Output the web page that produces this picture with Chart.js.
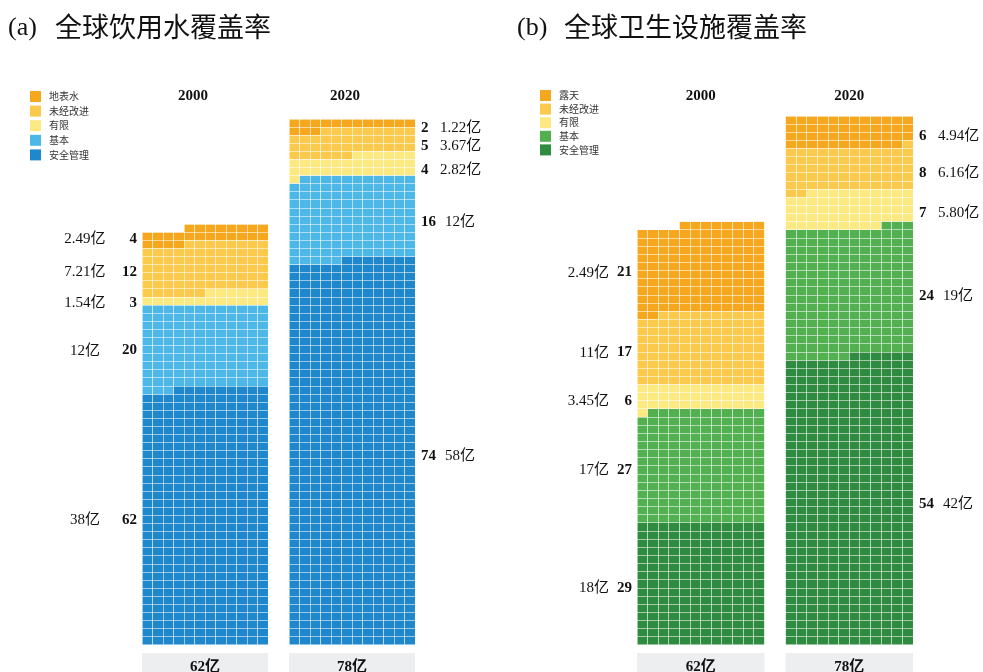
<!DOCTYPE html>
<html>
<head>
<meta charset="utf-8">
<script src="https://cdn.jsdelivr.net/npm/chart.js@4.4.1/dist/chart.umd.min.js"></script>
<style>
  html, body { margin: 0; padding: 0; background: #fff; }
  #wrap { position: relative; width: 983px; height: 672px; overflow: hidden; }
  .panel { position: absolute; top: 0; height: 672px; }
  #pa { left: 0; width: 491px; }
  #pb { left: 491px; width: 492px; }
</style>
</head>
<body>
<div id="wrap">
  <div class="panel" id="pa"><canvas id="ca" width="491" height="672"></canvas></div>
  <div class="panel" id="pb"><canvas id="cb" width="492" height="672"></canvas></div>
</div>
<script>
// ---- data ----------------------------------------------------------------
const years = ['2000', '2020'];
const totalPop = [62, 78];                 // 亿人
const totalLabels = ['62亿', '78亿'];

// service levels, listed top to bottom
const waterLevels = ['地表水', '未经改进', '有限', '基本', '安全管理'];
const waterShare2000 = [4, 12, 3, 20, 62];          // %
const waterShare2020 = [2, 5, 4, 16, 74];
const waterPop2000 = ['2.49亿', '7.21亿', '1.54亿', '12亿', '38亿'];
const waterPop2020 = ['1.22亿', '3.67亿', '2.82亿', '12亿', '58亿'];
const waterColors = ['#F5A81E', '#FBC94B', '#FDE982', '#4DB7E8', '#1F88CC'];

const sanLevels = ['露天', '未经改进', '有限', '基本', '安全管理'];
const sanShare2000 = [21, 17, 6, 27, 29];
const sanShare2020 = [6, 8, 7, 24, 54];
const sanPop2000 = ['2.49亿', '11亿', '3.45亿', '17亿', '18亿'];
const sanPop2020 = ['4.94亿', '6.16亿', '5.80亿', '19亿', '42亿'];
const sanColors = ['#F5A81E', '#FBC94B', '#FDE982', '#52B050', '#2E8B40'];

// ---- waffle geometry -----------------------------------------------------
const COLS = 12;            // squares per row
const GAP = 2;              // empty columns between the two years
const CELLS_PER_YI = 10;    // one square = 1000万人

// split a year's population into squares per level (largest remainder)
function cellCounts(shares, total) {
  const n = Math.round(total * CELLS_PER_YI);
  const sum = shares.reduce((a, b) => a + b, 0);
  const raw = shares.map(s => s / sum * n);
  const out = raw.map(Math.floor);
  const left = n - out.reduce((a, b) => a + b, 0);
  const order = raw.map((r, i) => [r - Math.floor(r), i]).sort((a, b) => b[0] - a[0]);
  for (let k = 0; k < left; k++) out[order[k][1]]++;
  return out;
}

// fill rows from the bottom, right to left; count squares of each level per column
function columnStacks(countsBottomUp) {
  const cols = countsBottomUp.map(() => new Array(COLS).fill(0));
  let i = 0;
  countsBottomUp.forEach((c, k) => {
    for (let j = 0; j < c; j++, i++) cols[k][COLS - 1 - (i % COLS)]++;
  });
  return cols.map(col => col.map(v => (v === 0 ? null : v)));
}

function buildPanel(levels, colors, shares, pops) {
  const countsTop = shares.map((s, y) => cellCounts(s, totalPop[y]));   // top-down order
  const countsUp = countsTop.map(c => c.slice().reverse());
  const stacks = countsUp.map(columnStacks);
  const nLevels = levels.length;
  const datasets = [];
  for (let k = 0; k < nLevels; k++) {
    const lvl = nLevels - 1 - k;  // bottom level first
    datasets.push({
      label: levels[lvl],
      backgroundColor: colors[lvl],
      data: [...stacks[0][k], ...new Array(GAP).fill(null), ...stacks[1][k]],
      stack: 'w'
    });
  }
  const labels = Array.from({ length: COLS * 2 + GAP }, (_, i) => String(i));
  const rows = Math.max(...countsTop.map(c => Math.ceil(c.reduce((a, b) => a + b, 0) / COLS)));
  // segment spans in rows, top-down order
  const spans = countsTop.map(c => {
    const up = c.slice().reverse();
    let acc = 0;
    const s = up.map(v => { const r = [acc / COLS, (acc + v) / COLS]; acc += v; return r; });
    return s.reverse();
  });
  return { datasets, labels, rows, spans, shares, pops };
}

// ---- annotation layer ----------------------------------------------------
const SERIF = '"Liberation Serif", "Times New Roman", "Noto Sans CJK SC", serif';
const CJK = '"Noto Sans CJK SC", "Noto Sans", sans-serif';

function barExtent(chart, yearIdx) {
  const xs = chart.scales.x;
  const w = (chart.chartArea.right - chart.chartArea.left) / (COLS * 2 + GAP);
  const first = yearIdx === 0 ? 0 : COLS + GAP;
  const l = xs.getPixelForValue(first) - w / 2;
  return [l, l + COLS * w];
}

function spread(items, minGap) {
  items.sort((a, b) => a.y - b.y);
  for (let i = 1; i < items.length; i++) {
    if (items[i].y - items[i - 1].y < minGap) items[i].y = items[i - 1].y + minGap;
  }
  return items;
}

const annotate = {
  id: 'annotate',
  afterDraw(chart, args, o) {
    const ctx = chart.ctx;
    const ys = chart.scales.y;
    const p = o.panel;
    ctx.save();

    // title
    ctx.fillStyle = '#111';
    ctx.textBaseline = 'middle';
    ctx.textAlign = 'left';
    ctx.font = '26px ' + SERIF;
    ctx.fillText(o.tag, o.titleX, 28);
    ctx.font = '27px ' + CJK;
    ctx.fillText(o.title, o.titleX + 47, 27);

    // legend
    o.levels.forEach((name, i) => {
      const y = o.legendY + i * o.legendStep;
      ctx.fillStyle = o.colors[i];
      ctx.fillRect(o.legendX, y - 5, 11, 11);
      ctx.fillStyle = '#333';
      ctx.font = '10px ' + CJK;
      ctx.fillText(name, o.legendX + 19, y + 0.5);
    });

    // year headers and totals
    years.forEach((yr, yi) => {
      const [l, r] = barExtent(chart, yi);
      const cx = (l + r) / 2;
      ctx.fillStyle = '#111';
      ctx.textAlign = 'center';
      ctx.font = 'bold 15px ' + SERIF;
      ctx.fillText(yr, cx + o.headerDx[yi], 96);
      ctx.fillStyle = '#EDEEF0';
      ctx.fillRect(l, 653, r - l, 30);
      ctx.fillStyle = '#111';
      ctx.font = 'bold 15px ' + SERIF;
      ctx.fillText(totalLabels[yi], cx, 667);
    });

    // level labels beside each bar
    years.forEach((yr, yi) => {
      const [l, r] = barExtent(chart, yi);
      const items = p.spans[yi].map((s, k) => ({
        y: ys.getPixelForValue((s[0] + s[1]) / 2) + 4,
        pct: String(p.shares[yi][k]),
        pop: p.pops[yi][k]
      }));
      spread(items, 16);
      const side = o.sides[yi];
      items.forEach(it => {
        ctx.fillStyle = '#111';
        ctx.font = 'bold 15px ' + SERIF;
        if (side.dir === 'left') {
          ctx.textAlign = 'right';
          ctx.fillText(it.pct, l - 5, it.y);
          ctx.font = '15px ' + SERIF;
          ctx.textAlign = side.popAlign;
          ctx.fillText(it.pop, side.popX, it.y);
        } else {
          ctx.textAlign = 'left';
          const px = r + 6;
          ctx.fillText(it.pct, px, it.y);
          const w = ctx.measureText(it.pct).width;
          ctx.font = '15px ' + SERIF;
          ctx.fillText(it.pop, Math.max(px + 19, px + w + 9), it.y);
        }
      });
    });
    ctx.restore();
  }
};

function makeChart(canvasId, panel, pad, opts) {
  const gridStyle = { display: true, color: 'rgba(255,255,255,0.55)', lineWidth: 1, z: 1, drawTicks: false };
  return new Chart(document.getElementById(canvasId), {
    type: 'bar',
    data: { labels: panel.labels, datasets: panel.datasets },
    options: {
      responsive: false,
      animation: false,
      layout: { padding: pad },
      datasets: { bar: { barPercentage: 1, categoryPercentage: 1, borderWidth: 0, inflateAmount: 0 } },
      scales: {
        x: { stacked: true, grid: Object.assign({ offset: true }, gridStyle),
             ticks: { display: false }, border: { display: false } },
        y: { stacked: true, min: 0, max: panel.rows, grid: gridStyle,
             ticks: { display: false }, border: { display: false },
             afterBuildTicks: ax => { ax.ticks = Array.from({ length: panel.rows + 1 }, (_, i) => ({ value: i })); } }
      },
      plugins: {
        legend: { display: false },
        tooltip: { enabled: false },
        annotate: Object.assign({ panel }, opts)
      }
    },
    plugins: [annotate]
  });
}

const water = buildPanel(waterLevels, waterColors, [waterShare2000, waterShare2020], [waterPop2000, waterPop2020]);
const sanitation = buildPanel(sanLevels, sanColors, [sanShare2000, sanShare2020], [sanPop2000, sanPop2020]);

makeChart('ca', water, { left: 142, right: 76, top: 119, bottom: 27 }, {
  tag: '(a)', title: '全球饮用水覆盖率', titleX: 8,
  levels: waterLevels, colors: waterColors,
  legendX: 30, legendY: 96, legendStep: 14.6, headerDx: [-12, -7],
  sides: [{ dir: 'left', popX: 85, popAlign: 'center' }, { dir: 'right' }]
});
makeChart('cb', sanitation, { left: 146, right: 70, top: 116, bottom: 27 }, {
  tag: '(b)', title: '全球卫生设施覆盖率', titleX: 26,
  levels: sanLevels, colors: sanColors,
  legendX: 49, legendY: 95, legendStep: 13.6, headerDx: [0, 0],
  sides: [{ dir: 'left', popX: 118, popAlign: 'right' }, { dir: 'right' }]
});
</script>
</body>
</html>
